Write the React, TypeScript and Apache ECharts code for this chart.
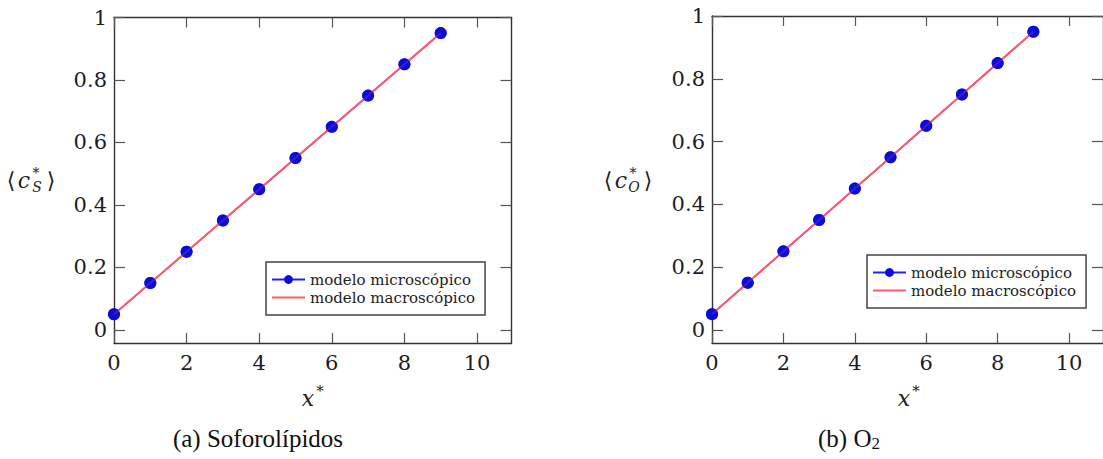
import React, { useEffect, useRef } from "react";
import * as echarts from "echarts";

const xs = [0, 1, 2, 3, 4, 5, 6, 7, 8, 9];
const microS = [0.05, 0.15, 0.25, 0.35, 0.45, 0.55, 0.65, 0.75, 0.85, 0.95];
const macroS = [0.05, 0.15, 0.25, 0.35, 0.45, 0.55, 0.65, 0.75, 0.85, 0.95];
const microO = [0.05, 0.15, 0.25, 0.35, 0.45, 0.55, 0.65, 0.75, 0.85, 0.95];
const macroO = [0.05, 0.15, 0.25, 0.35, 0.45, 0.55, 0.65, 0.75, 0.85, 0.95];
const xTicks = [0, 2, 4, 6, 8, 10];
const yTicks = [0, 0.2, 0.4, 0.6, 0.8, 1];
const legendNames = ["modelo microscópico", "modelo macroscópico"];
const captions = ["(a) Soforolípidos", "(b) O"];

const SERIF = "DejaVu Serif";
const TIMES = "Liberation Serif";
const AXIS_COLOR = "#333";
const LABEL_COLOR = "#1c1c28";

function pairs(x: number[], y: number[]) {
  return x.map((v, i) => [v, y[i]]);
}

function xAxisPair(grid: number) {
  const base = {
    type: "value",
    gridIndex: grid,
    min: 0,
    max: 10.95,
    splitLine: { show: false },
    axisLine: { show: true, onZero: false, lineStyle: { color: AXIS_COLOR, width: 1.4 } },
    axisTick: { show: true, inside: true, length: 10, customValues: xTicks, lineStyle: { color: "#555", width: 1.2 } },
  };
  return [
    {
      ...base,
      position: "bottom",
      axisLabel: { show: true, customValues: xTicks, margin: 9, fontFamily: SERIF, fontSize: 21, color: LABEL_COLOR },
    },
    { ...base, position: "top", axisLabel: { show: false } },
  ];
}

function yAxisPair(grid: number) {
  const base = {
    type: "value",
    gridIndex: grid,
    min: -0.042,
    max: 1,
    splitLine: { show: false },
    axisLine: { show: true, onZero: false, lineStyle: { color: AXIS_COLOR, width: 1.4 } },
    axisTick: { show: true, inside: true, length: 11, customValues: yTicks, lineStyle: { color: "#555", width: 1.2 } },
  };
  return [
    {
      ...base,
      position: "left",
      axisLabel: { show: true, customValues: yTicks, margin: 7, fontFamily: SERIF, fontSize: 21, color: LABEL_COLOR },
    },
    { ...base, position: "right", axisLabel: { show: false } },
  ];
}

function seriesFor(grid: number, micro: number[], macro: number[]) {
  const xi = grid * 2;
  const yi = grid * 2;
  return [
    {
      name: legendNames[0],
      type: "line",
      xAxisIndex: xi,
      yAxisIndex: yi,
      data: pairs(xs, micro),
      color: "#1010f0",
      lineStyle: { color: "#2020ff", width: 1.5 },
      symbol: "circle",
      symbolSize: 12,
      itemStyle: { color: "#0c0cd8" },
      z: 2,
    },
    {
      name: legendNames[1],
      type: "line",
      xAxisIndex: xi,
      yAxisIndex: yi,
      data: pairs(xs, macro),
      color: "#ff6a78",
      lineStyle: { color: "#ff5a6c", width: 2 },
      symbol: "none",
      z: 3,
    },
    {
      type: "scatter",
      xAxisIndex: xi,
      yAxisIndex: yi,
      data: pairs(xs, micro),
      symbol: "circle",
      symbolSize: 12,
      itemStyle: { color: "#0c0cd8" },
      z: 4,
    },
  ];
}

function legendFor(left: number, top: number) {
  return {
    data: [
      { name: legendNames[0] },
      { name: legendNames[1], itemStyle: { opacity: 0 } },
    ],
    orient: "vertical",
    left,
    top,
    itemWidth: 33,
    itemHeight: 11,
    itemGap: 3,
    padding: [10, 10, 10, 5],
    borderColor: "#444",
    borderWidth: 1.5,
    backgroundColor: "#fff",
    borderRadius: 0,
    textStyle: { fontFamily: SERIF, fontSize: 15, color: "#222" },
  };
}

function yName(cx: number, sub: string) {
  const f = { fontFamily: SERIF, fill: "#222" };
  return {
    type: "group",
    x: cx,
    y: 180,
    children: [
      { type: "text", x: -21, y: 0, style: { ...f, text: "\u27E8", fontFamily: "DejaVu Sans", fontSize: 22, textAlign: "center", textVerticalAlign: "middle" } },
      { type: "text", x: -8, y: 0, style: { ...f, text: "c", fontStyle: "italic", fontSize: 22, textAlign: "center", textVerticalAlign: "middle" } },
      { type: "text", x: 4, y: -7, style: { ...f, text: "*", fontSize: 14, textAlign: "center", textVerticalAlign: "middle" } },
      { type: "text", x: 5, y: 7, style: { ...f, text: sub, fontStyle: "italic", fontSize: 14, textAlign: "center", textVerticalAlign: "middle" } },
      { type: "text", x: 19, y: 0, style: { ...f, text: "\u27E9", fontFamily: "DejaVu Sans", fontSize: 22, textAlign: "center", textVerticalAlign: "middle" } },
    ],
  };
}

function xName(cx: number) {
  const f = { fontFamily: SERIF, fill: "#222" };
  return {
    type: "group",
    x: cx,
    y: 398,
    children: [
      { type: "text", x: -4, y: 0, style: { ...f, text: "x", fontStyle: "italic", fontSize: 22, textAlign: "center", textVerticalAlign: "middle" } },
      { type: "text", x: 8, y: -7, style: { ...f, text: "*", fontSize: 15, textAlign: "center", textVerticalAlign: "middle" } },
    ],
  };
}

export default function App() {
  const ref = useRef<HTMLDivElement>(null);
  useEffect(() => {
    if (!ref.current) return;
    const chart = echarts.init(ref.current, null, { renderer: "svg" });
    const cap = { fontFamily: TIMES, fontSize: 25, fill: "#111" };
    chart.setOption({
      animation: false,
      backgroundColor: "#fff",
      grid: [
        { left: 114, top: 17.5, width: 397.5, height: 325.5 },
        { left: 712, top: 16, width: 393, height: 327 },
      ],
      xAxis: [...xAxisPair(0), ...xAxisPair(1)],
      yAxis: [...yAxisPair(0), ...yAxisPair(1)],
      legend: [legendFor(266, 262), legendFor(867, 255)],
      series: [...seriesFor(0, microS, macroS), ...seriesFor(1, microO, macroO)],
      graphic: [
        yName(32, "S"),
        yName(629, "O"),
        xName(312),
        xName(908),
        { type: "text", x: 258, y: 438, style: { ...cap, text: captions[0], textAlign: "center", textVerticalAlign: "middle" } },
        {
          type: "text",
          x: 849,
          y: 438,
          style: {
            text: "{n|" + captions[1] + "}{s|2}",
            textAlign: "center",
            textVerticalAlign: "middle",
            rich: {
              n: { ...cap, lineHeight: 32, verticalAlign: "middle" },
              s: { fontFamily: TIMES, fontSize: 17, fill: "#111", lineHeight: 32, verticalAlign: "bottom", padding: [0, 0, 2, 0] },
            },
          },
        },
      ],
    });
    return () => chart.dispose();
  }, []);
  return <div ref={ref} style={{ position: "fixed", left: 0, top: 0, width: 1103, height: 459 }} />;
}
